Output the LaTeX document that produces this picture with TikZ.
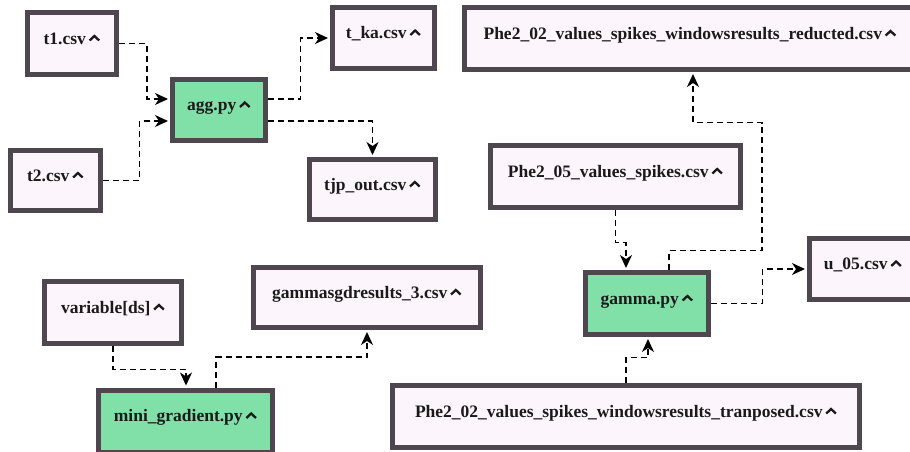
\documentclass[tikz,border=0pt]{standalone}
\usepackage{fontspec}
\setmainfont{Liberation Serif}
\usetikzlibrary{arrows.meta,calc}
\definecolor{boxfill}{HTML}{FDF5FC}
\definecolor{boxline}{HTML}{4F4750}
\definecolor{pyfill}{HTML}{80E0A8}
\definecolor{txt}{HTML}{1A1A1A}
\newcommand{\chev}{\kern2.5pt\tikz[baseline=0pt]\draw[line width=2.3pt,line cap=butt,line join=miter,solid,txt] (0pt,3.5pt)--(4.8pt,8pt)--(9.6pt,3.5pt);}
\tikzset{
  filebox/.style={draw=boxline,fill=boxfill,line width=5pt,inner sep=0pt,
    text depth=11pt,text height=12pt,font=\bfseries\fontsize{17.5}{20}\selectfont,text=txt},
  pybox/.style={filebox,fill=pyfill},
  conn/.style={draw=black,line width=1.3pt,dash pattern=on 6pt off 4pt,
    -{Stealth[length=13pt,width=12pt,inset=4pt]},shorten >=2pt}
}
\begin{document}
\begin{tikzpicture}[x=1pt,y=-1pt]
\useasboundingbox (0,0) rectangle (910,451);
\begin{scope}
\clip (0,0) rectangle (910,451);
\node[filebox,minimum width=89pt,minimum height=62pt] (t1) at (72,43.5) {t1.csv\chev};
\node[filebox,minimum width=90pt,minimum height=60pt] (t2) at (55.5,180.5) {t2.csv\chev};
\node[pybox,minimum width=93pt,minimum height=61pt] (agg) at (219,110) {agg.py\chev};
\node[filebox,minimum width=102pt,minimum height=61pt] (tka) at (383.5,38) {t\_ka.csv\chev};
\node[filebox,minimum width=126pt,minimum height=60pt] (tjp) at (372.5,189.5) {tjp\_out.csv\chev};
\node[filebox,minimum width=451pt,minimum height=62pt] (red) at (690,38.5) {Phe2\_02\_values\_spikes\_windowsresults\_reducted.csv\chev};
\node[filebox,minimum width=250pt,minimum height=62pt] (p05) at (615.5,176.5) {Phe2\_05\_values\_spikes.csv\chev};
\node[pybox,minimum width=123pt,minimum height=62pt] (gamma) at (647,303.5) {gamma.py\chev};
\node[filebox,minimum width=107pt,minimum height=61pt] (u05) at (863,269) {u\_05.csv\chev};
\node[filebox,minimum width=467pt,minimum height=62pt] (tran) at (626,416.5) {Phe2\_02\_values\_spikes\_windowsresults\_tranposed.csv\chev};
\node[filebox,minimum width=137pt,minimum height=62pt] (var) at (113,312.5) {variable[ds]\chev};
\node[filebox,minimum width=227pt,minimum height=60pt] (gsd) at (367,297.5) {gammasgdresults\_3.csv\chev};
\node[pybox,minimum width=174pt,minimum height=62pt] (mini) at (185.5,421) {mini\_gradient.py\chev};

\draw[conn] (t1.east) -- ++(28,0) |- ([yshift=11pt]agg.west);
\draw[conn] (t2.east) -- ++(36.5,0) |- ([yshift=-11pt]agg.west);
\draw[conn] ([yshift=11pt]agg.east) -- ++(32.5,0) |- (tka.west);
\draw[conn] ([yshift=-11pt]agg.east) -| (tjp.north);
\draw[conn] (p05.south) -- ++(0,32.5) -| ([xshift=-21pt]gamma.north);
\draw[conn] ([xshift=22pt]gamma.north) -- ++(0,-19.5) -- ++(93,0) -- ++(0,-128) -| ([xshift=3pt]red.south);
\draw[conn] (gamma.east) -- ++(51.5,0) |- (u05.west);
\draw[conn] (tran.north) -- ++(0,-25.5) -| ([xshift=1pt]gamma.south);
\draw[conn] (var.south) -- ++(0,23.5) -| ([xshift=0.5pt]mini.north);
\draw[conn] ([xshift=30.5pt]mini.north) -- ++(0,-30.5) -| (gsd.south);
\end{scope}
\end{tikzpicture}
\end{document}
